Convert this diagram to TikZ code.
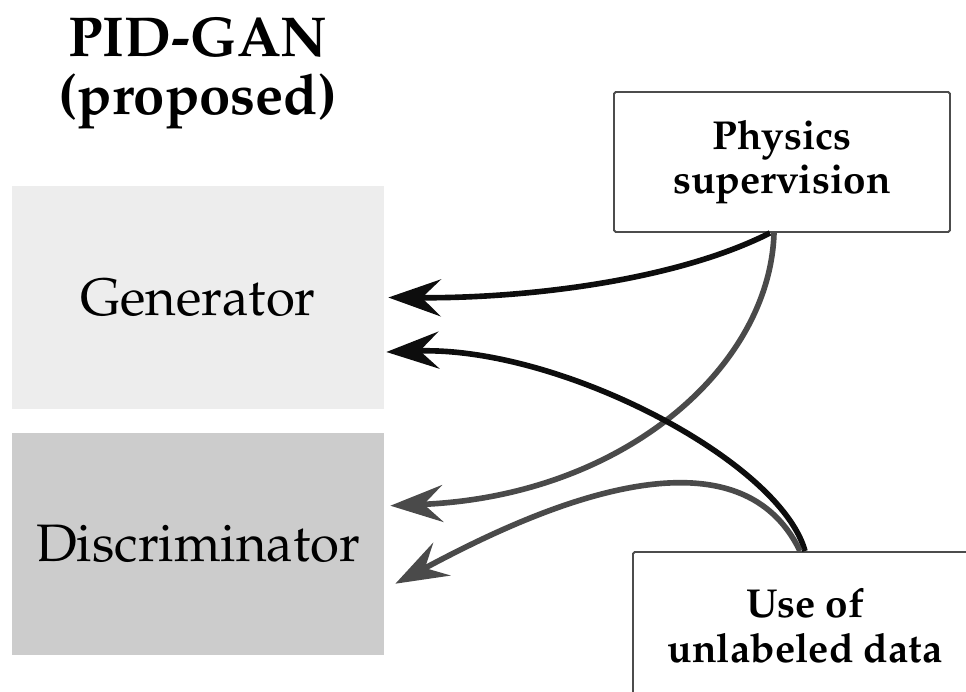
\documentclass[tikz,border=0pt]{standalone}
\usepackage[T1]{fontenc}
\usepackage{mathpazo}
\usetikzlibrary{arrows.meta, positioning}
\definecolor{genfill}{HTML}{EDEDED}
\definecolor{discfill}{HTML}{CCCCCC}
\definecolor{linkgray}{HTML}{4A4A4A}

\begin{document}
\begin{tikzpicture}[
    block/.style={minimum width=7.44cm, minimum height=4.44cm, font=\fontsize{30}{36}\selectfont},
    srcbox/.style={draw=black!70, line width=1.1pt, rounded corners=1pt, align=center,
        font=\bfseries\fontsize{23}{25.5}\selectfont},
    link/.style={line width=3.2pt, -{Stealth[length=10.5mm, width=7.4mm, inset=3.8mm]}},
]
\clip (0,0) rectangle (19.32,13.82);

\node[align=center, font=\bfseries\fontsize{32}{33}\selectfont] (title) at (3.96,12.36) {PID-GAN\\(proposed)};

\node[block, fill=genfill] (gen) at (3.96,7.87) {Generator};
\node[block, fill=discfill, below=0.48cm of gen] (disc) {Discriminator};

\node[srcbox, minimum width=6.72cm, minimum height=2.8cm] (phys) at (15.64,10.58) {Physics\\supervision};
\node[srcbox, minimum width=6.88cm, minimum height=2.96cm] (unlab) at (16.1,1.3) {Use of\\unlabeled data};

% physics supervision
\draw[link, black!95] ([xshift=-2.4mm]phys.south) .. controls (13.5,8.2) and (10.5,7.85) .. ([xshift=0.8mm]gen.east);
\draw[link, linkgray] ([xshift=-1.6mm]phys.south) .. controls (15.4,6.5) and (12.5,3.9) .. ([xshift=1.2mm, yshift=7.7mm]disc.east);

% unlabeled data
\draw[link, black!95] (unlab.north) .. controls (15.6,4.6) and (11.2,6.9) .. ([xshift=0.4mm, yshift=-10.9mm]gen.east);
\draw[link, linkgray] ([xshift=-1mm]unlab.north) .. controls (14.6,5.7) and (9.9,3.2) .. ([xshift=2.2mm, yshift=-7.9mm]disc.east);

\end{tikzpicture}
\end{document}
